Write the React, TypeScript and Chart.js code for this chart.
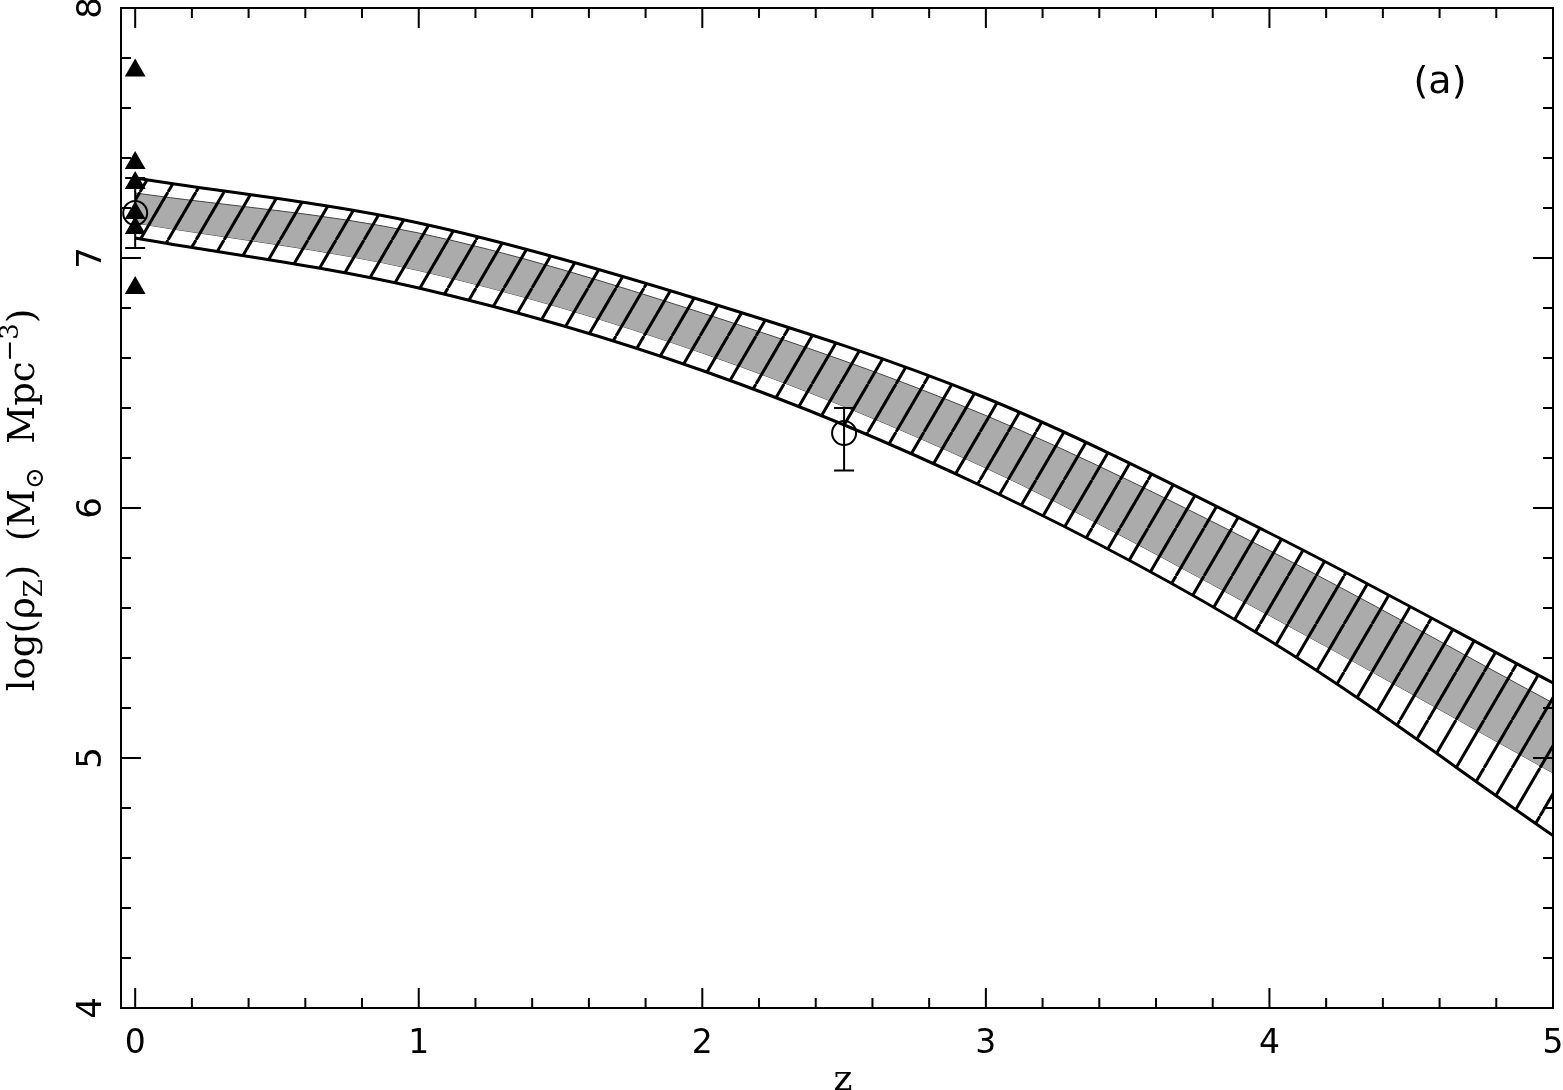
import React, { useEffect, useRef } from 'react';
import { Chart, registerables } from 'chart.js';

Chart.register(...registerables);

// ---- data ----
const bandZ = [0, 1, 2, 3, 4, 5];
const outerUpper = [7.32, 7.14, 6.83, 6.44, 5.9, 5.3];
const outerLower = [7.08, 6.88, 6.55, 6.08, 5.47, 4.69];
const innerUpper = [7.26, 7.1, 6.78, 6.37, 5.83, 5.22];
const innerLower = [7.14, 6.95, 6.62, 6.16, 5.57, 4.94];

const triZ = [0, 0, 0, 0, 0, 0];
const triY = [7.75, 7.38, 7.3, 7.18, 7.12, 6.88];

const circZ = [0, 2.5];
const circY = [7.18, 6.3];
const circLo = [7.04, 6.15];
const circHi = [7.32, 6.4];

const xMajor = [0, 1, 2, 3, 4, 5];
const xLabels = ['0', '1', '2', '3', '4', '5'];
const xMinor = [0.2, 0.4, 0.6, 0.8, 1.2, 1.4, 1.6, 1.8, 2.2, 2.4, 2.6, 2.8, 3.2, 3.4, 3.6, 3.8, 4.2, 4.4, 4.6, 4.8];
const yMajor = [4, 5, 6, 7, 8];
const yLabels = ['4', '5', '6', '7', '8'];
const yMinor = [4.2, 4.4, 4.6, 4.8, 5.2, 5.4, 5.6, 5.8, 6.2, 6.4, 6.6, 6.8, 7.2, 7.4, 7.6, 7.8];

const panelLabel = '(a)';
const xTitle = 'z';

const W = 1563;
const H = 1090;

function makeHatch(): CanvasPattern | string {
  const w = 28;
  const h = 48;
  const c = document.createElement('canvas');
  c.width = w;
  c.height = h;
  const g = c.getContext('2d');
  if (!g) return 'rgba(0,0,0,0)';
  g.strokeStyle = '#000';
  g.lineWidth = 3;
  for (let n = -1; n <= 1; n++) {
    g.beginPath();
    g.moveTo(n * w, h);
    g.lineTo((n + 1) * w, 0);
    g.stroke();
  }
  const p = g.createPattern(c, 'repeat');
  return p || '#000';
}

const decorPlugin = {
  id: 'decor',
  afterDatasetsDraw(chart: any) {
    const ctx = chart.ctx;
    const xs = chart.scales.x;
    const ys = chart.scales.y;
    ctx.save();
    ctx.strokeStyle = '#000';
    ctx.lineWidth = 2;
    for (let i = 0; i < circZ.length; i++) {
      const px = xs.getPixelForValue(circZ[i]);
      const lo = ys.getPixelForValue(circLo[i]);
      const hi = ys.getPixelForValue(circHi[i]);
      ctx.beginPath();
      ctx.moveTo(px, lo);
      ctx.lineTo(px, hi);
      ctx.moveTo(px - 10, lo);
      ctx.lineTo(px + 10, lo);
      ctx.moveTo(px - 10, hi);
      ctx.lineTo(px + 10, hi);
      ctx.stroke();
    }
    ctx.restore();
  },
  afterDraw(chart: any) {
    const ctx = chart.ctx;
    const { left, right, top, bottom } = chart.chartArea;
    const xs = chart.scales.x;
    const ys = chart.scales.y;
    ctx.save();
    ctx.strokeStyle = '#000';
    ctx.lineWidth = 2;
    ctx.strokeRect(left, top, right - left, bottom - top);
    const major = 20;
    const minor = 10;
    ctx.beginPath();
    const xt = (v: number, len: number) => {
      const p = xs.getPixelForValue(v);
      ctx.moveTo(p, bottom);
      ctx.lineTo(p, bottom - len);
      ctx.moveTo(p, top);
      ctx.lineTo(p, top + len);
    };
    const yt = (v: number, len: number) => {
      const p = ys.getPixelForValue(v);
      ctx.moveTo(left, p);
      ctx.lineTo(left + len, p);
      ctx.moveTo(right, p);
      ctx.lineTo(right - len, p);
    };
    xMajor.forEach((v) => xt(v, major));
    xMinor.forEach((v) => xt(v, minor));
    yMajor.forEach((v) => yt(v, major));
    yMinor.forEach((v) => yt(v, minor));
    ctx.stroke();

    // y tick labels (rotated)
    ctx.fillStyle = '#000';
    ctx.font = '34px "DejaVu Sans"';
    ctx.textAlign = 'center';
    ctx.textBaseline = 'alphabetic';
    yMajor.forEach((v, i) => {
      const p = ys.getPixelForValue(v);
      ctx.save();
      ctx.translate(101, p);
      ctx.rotate(-Math.PI / 2);
      ctx.fillText(yLabels[i], 0, 0);
      ctx.restore();
    });

    // panel label
    ctx.textAlign = 'center';
    ctx.font = '38px "DejaVu Sans"';
    ctx.fillText(panelLabel, 1440, 93);

    // x title
    ctx.font = '36px "DejaVu Serif"';
    ctx.fillText(xTitle, 843, 1090);

    // y title with sub/superscripts
    const pieces = [
      { t: 'log(ρ', s: 37, dy: 0 },
      { t: 'Z', s: 26, dy: 8 },
      { t: ')  (M', s: 37, dy: 0 },
      { t: '⊙', s: 26, dy: 9 },
      { t: '  Mpc', s: 37, dy: 0 },
      { t: '−3', s: 26, dy: -16 },
      { t: ')', s: 37, dy: 0 },
    ];
    let total = 0;
    const widths = pieces.map((pc) => {
      ctx.font = `${pc.s}px "DejaVu Serif"`;
      const w = ctx.measureText(pc.t).width;
      total += w;
      return w;
    });
    ctx.save();
    ctx.translate(34, 500);
    ctx.rotate(-Math.PI / 2);
    ctx.textAlign = 'left';
    let cx = -total / 2;
    pieces.forEach((pc, i) => {
      ctx.font = `${pc.s}px "DejaVu Serif"`;
      ctx.fillText(pc.t, cx, pc.dy);
      cx += widths[i];
    });
    ctx.restore();
    ctx.restore();
  },
};

export default function App() {
  const ref = useRef<HTMLCanvasElement | null>(null);
  useEffect(() => {
    if (!ref.current) return;
    const hatch = makeHatch();
    const pts = (xsArr: number[], ysArr: number[]) => xsArr.map((x, i) => ({ x, y: ysArr[i] }));
    const chart = new Chart(ref.current, {
      type: 'scatter',
      data: {
        datasets: [
          {
            label: 'triangles',
            data: pts(triZ, triY),
            pointStyle: 'triangle',
            pointRadius: 12,
            backgroundColor: '#000',
            borderColor: '#000',
            borderWidth: 0,
          },
          {
            label: 'circles',
            data: pts(circZ, circY),
            pointStyle: 'circle',
            pointRadius: 12,
            backgroundColor: 'rgba(0,0,0,0)',
            borderColor: '#000',
            borderWidth: 2,
          },
          {
            label: 'outerUpper',
            data: pts(bandZ, outerUpper),
            showLine: true,
            pointRadius: 0,
            borderColor: '#000',
            borderWidth: 3,
            cubicInterpolationMode: 'monotone',
            fill: '+1',
            backgroundColor: hatch as any,
          },
          {
            label: 'outerLower',
            data: pts(bandZ, outerLower),
            showLine: true,
            pointRadius: 0,
            borderColor: '#000',
            borderWidth: 3,
            cubicInterpolationMode: 'monotone',
            fill: false,
          },
          {
            label: 'innerUpper',
            data: pts(bandZ, innerUpper),
            showLine: true,
            pointRadius: 0,
            borderColor: '#444',
            borderWidth: 1,
            cubicInterpolationMode: 'monotone',
            fill: '+1',
            backgroundColor: '#ababab',
          },
          {
            label: 'innerLower',
            data: pts(bandZ, innerLower),
            showLine: true,
            pointRadius: 0,
            borderColor: '#444',
            borderWidth: 1,
            cubicInterpolationMode: 'monotone',
            fill: false,
          },
        ],
      },
      options: {
        animation: false,
        responsive: true,
        maintainAspectRatio: false,
        events: [],
        layout: { autoPadding: false, padding: { left: 0, top: 8, right: 10, bottom: 0 } },
        plugins: {
          legend: { display: false },
          tooltip: { enabled: false },
          title: { display: false },
        },
        scales: {
          x: {
            type: 'linear',
            min: -0.05,
            max: 5,
            grid: { display: false, drawTicks: false },
            border: { display: false },
            afterBuildTicks: (s: any) => {
              s.ticks = xMajor.map((v) => ({ value: v }));
            },
            afterFit: (s: any) => {
              s.height = 82;
              s.paddingLeft = 0;
              s.paddingRight = 0;
              s.paddingTop = 0;
              s.paddingBottom = 0;
            },
            ticks: {
              padding: 17,
              color: '#000',
              font: { family: '"DejaVu Sans"', size: 33 },
              maxRotation: 0,
              autoSkip: false,
              callback: (v: any) => {
                const i = xMajor.indexOf(Number(v));
                return i >= 0 ? xLabels[i] : '';
              },
            },
          },
          y: {
            type: 'linear',
            min: 4,
            max: 8,
            grid: { display: false, drawTicks: false },
            border: { display: false },
            afterBuildTicks: (s: any) => {
              s.ticks = yMajor.map((v) => ({ value: v }));
            },
            afterFit: (s: any) => {
              s.width = 121;
              s.paddingLeft = 0;
              s.paddingRight = 0;
              s.paddingTop = 0;
              s.paddingBottom = 0;
            },
            ticks: { display: false },
          },
        },
      },
      plugins: [decorPlugin],
    } as any);
    return () => chart.destroy();
  }, []);
  return (
    <div style={{ position: 'absolute', left: 0, top: 0, width: W, height: H }}>
      <canvas ref={ref} />
    </div>
  );
}
